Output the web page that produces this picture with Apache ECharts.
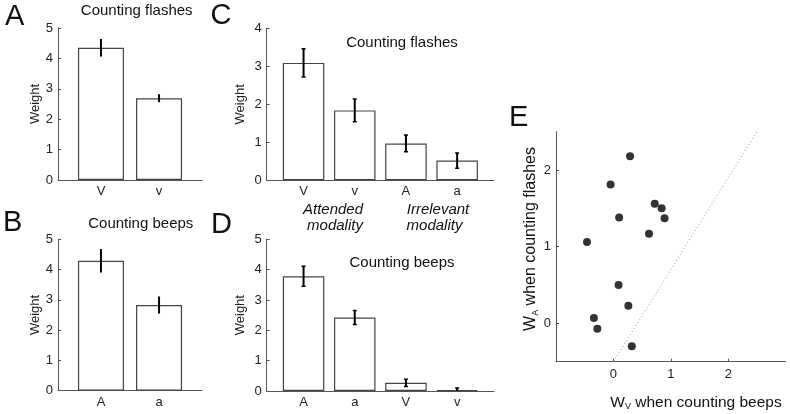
<!DOCTYPE html>
<html><head><meta charset="utf-8">
<script src="https://cdn.jsdelivr.net/npm/echarts@6/dist/echarts.min.js"></script>
<style>html,body{margin:0;padding:0;background:#fff}#c{width:790px;height:414px}</style>
</head><body><div id="c"></div>
<script>
// ---- data ----
const catsA = ['V', 'v'];
const valsA = [4.35, 2.69];
const errA = [0.29, 0.13];

const catsB = ['A', 'a'];
const valsB = [4.29, 2.83];
const errB = [0.39, 0.28];

const catsC = ['V', 'v', 'A', 'a'];
const valsC = [3.09, 1.84, 0.97, 0.52];
const errC = [0.37, 0.30, 0.22, 0.20];

const catsD = ['A', 'a', 'V', 'v'];
const valsD = [3.78, 2.42, 0.27, 0.03];
const errD = [0.33, 0.23, 0.12, 0.07];

const wV = [0.29, -0.05, 0.72, 0.84, 0.89, 0.10, 0.62, -0.46, 0.09, 0.26, -0.34, -0.28, 0.32];
const wA = [2.18, 1.81, 1.56, 1.50, 1.37, 1.38, 1.17, 1.06, 0.50, 0.23, 0.07, -0.07, -0.30];
const diagX = [0, 2.5];
const diagY = [-0.5, 2.5];
const ticksE_X = [0, 1, 2];
const ticksE_Y = [0, 1, 2];

// ---- styling helpers ----
const FONT = 'Liberation Sans, Arial, sans-serif';
const AX = '#555';
const grids = [
  {left: 58, top: 28, width: 144, height: 152},
  {left: 58, top: 239.3, width: 144, height: 151.4},
  {left: 266.7, top: 28.3, width: 227.3, height: 152},
  {left: 266.7, top: 239.3, width: 227.3, height: 151.7},
  {left: 556, top: 131.7, width: 229.7, height: 230}
].map(g => Object.assign({outerBoundsMode: 'none', containLabel: false}, g));

function barX(idx, cats, min, max) {
  const vals = cats.map((c, k) => k + 1);
  return {
    type: 'value', gridIndex: idx, min: min, max: max,
    splitLine: {show: false},
    axisLine: {onZero: false, lineStyle: {color: AX, width: 1}},
    axisTick: {show: false},
    axisLabel: {customValues: vals, formatter: v => cats[Math.round(v) - 1] || '',
      margin: 5, fontSize: 13, color: '#222', fontFamily: FONT}
  };
}
function barY(idx, max, gap) {
  return {
    type: 'value', gridIndex: idx, min: 0, max: max, interval: 1,
    splitLine: {show: false},
    axisLine: {show: true, onZero: false, lineStyle: {color: AX, width: 1}},
    axisTick: {show: true, inside: true, length: 3, lineStyle: {color: AX}},
    axisLabel: {margin: 5, fontSize: 13, color: '#222', fontFamily: FONT},
    name: 'Weight', nameLocation: 'middle', nameRotate: 90, nameGap: gap,
    nameTextStyle: {fontSize: 13, color: '#222', fontFamily: FONT}
  };
}
function barSeries(idx, vals, w) {
  return {
    type: 'bar', xAxisIndex: idx, yAxisIndex: idx, barWidth: w,
    data: vals.map((v, k) => [k + 1, v]),
    itemStyle: {color: '#fff', borderColor: '#444', borderWidth: 1.2},
    silent: true, animation: false
  };
}
function errSeries(idx, vals, errs, cap) {
  return {
    type: 'custom', xAxisIndex: idx, yAxisIndex: idx, clip: true, z: 5,
    data: vals.map((v, k) => [k + 1, v - errs[k], v + errs[k]]),
    encode: {x: 0, y: [1, 2]},
    renderItem: (params, api) => {
      const lo = api.coord([api.value(0), api.value(1)]);
      const hi = api.coord([api.value(0), api.value(2)]);
      const st = {stroke: '#000', lineWidth: 2};
      const ch = [{type: 'line', shape: {x1: lo[0], y1: lo[1], x2: hi[0], y2: hi[1]}, style: st}];
      if (cap > 0) {
        ch.push({type: 'line', shape: {x1: lo[0] - cap / 2, y1: lo[1], x2: lo[0] + cap / 2, y2: lo[1]}, style: {stroke: '#000', lineWidth: 1.5}});
        ch.push({type: 'line', shape: {x1: hi[0] - cap / 2, y1: hi[1], x2: hi[0] + cap / 2, y2: hi[1]}, style: {stroke: '#000', lineWidth: 1.5}});
      }
      return {type: 'group', children: ch};
    },
    silent: true, animation: false
  };
}
function txt(x, y, s, size, opts) {
  return {
    type: 'text', x: x, y: y, silent: true,
    style: Object.assign({text: s, fontSize: size, fontFamily: FONT, fill: '#111',
      textAlign: 'center', textVerticalAlign: 'middle'}, opts || {})
  };
}

const chart = echarts.init(document.getElementById('c'), null, {renderer: 'canvas'});
const option = {
  animation: false,
  backgroundColor: '#fff',
  grid: grids,
  xAxis: [
    barX(0, catsA, 0.26, 2.74),
    barX(1, catsB, 0.26, 2.74),
    barX(2, catsC, 0.28, 4.72),
    barX(3, catsD, 0.28, 4.72),
    {
      type: 'value', gridIndex: 4, min: -1, max: 3, interval: 1,
      splitLine: {show: false},
      axisLine: {onZero: false, lineStyle: {color: AX, width: 1}},
      axisTick: {show: true, inside: true, length: 3, customValues: ticksE_X, lineStyle: {color: AX}},
      axisLabel: {customValues: ticksE_X, margin: 6, fontSize: 13, color: '#222', fontFamily: FONT}
    }
  ],
  yAxis: [
    barY(0, 5, 16.5),
    barY(1, 5, 16.5),
    barY(2, 4, 20),
    barY(3, 5, 20),
    {
      type: 'value', gridIndex: 4, min: -0.5, max: 2.5,
      splitLine: {show: false},
      axisLine: {show: true, onZero: false, lineStyle: {color: AX, width: 1}},
      axisTick: {show: true, inside: true, length: 3, customValues: ticksE_Y, lineStyle: {color: AX}},
      axisLabel: {customValues: ticksE_Y, margin: 5, fontSize: 13, color: '#222', fontFamily: FONT}
    }
  ],
  series: [
    barSeries(0, valsA, 46), errSeries(0, valsA, errA, 0),
    barSeries(1, valsB, 46), errSeries(1, valsB, errB, 0),
    barSeries(2, valsC, 41.5), errSeries(2, valsC, errC, 4),
    barSeries(3, valsD, 41.5), errSeries(3, valsD, errD, 4),
    {
      type: 'line', xAxisIndex: 4, yAxisIndex: 4, symbol: 'none', silent: true,
      data: diagX.map((x, i) => [x, diagY[i]]),
      lineStyle: {color: '#999', width: 1, type: [1, 2.5]}
    },
    {
      type: 'scatter', xAxisIndex: 4, yAxisIndex: 4, symbolSize: 8, silent: true,
      data: wV.map((x, i) => [x, wA[i]]),
      itemStyle: {color: '#000'}
    }
  ],
  graphic: [
    txt(5, 17, 'A', 29, {textAlign: 'left'}),
    txt(3, 223.3, 'B', 29, {textAlign: 'left'}),
    txt(210.5, 15.5, 'C', 29, {textAlign: 'left'}),
    txt(211, 225, 'D', 29, {textAlign: 'left'}),
    txt(509, 118, 'E', 29, {textAlign: 'left'}),
    txt(136.7, 10.8, 'Counting flashes', 15),
    txt(140.8, 224, 'Counting beeps', 15),
    txt(402, 42.5, 'Counting flashes', 15),
    txt(402, 263, 'Counting beeps', 15),
    txt(333, 209.5, 'Attended', 15, {fontStyle: 'italic'}),
    txt(335, 226, 'modality', 15, {fontStyle: 'italic'}),
    txt(438, 209.5, 'Irrelevant', 15, {fontStyle: 'italic'}),
    txt(434.5, 226, 'modality', 15, {fontStyle: 'italic'}),
    {
      type: 'text', x: 696, y: 402.5, silent: true,
      style: {
        text: '{w|W}{s|V}{w| when counting beeps}',
        textAlign: 'center', textVerticalAlign: 'middle',
        rich: {
          w: {fontSize: 15.5, fontFamily: FONT, fill: '#111', color: '#111', lineHeight: 18, verticalAlign: 'middle'},
          s: {fontSize: 9, fontFamily: FONT, fill: '#111', color: '#111', verticalAlign: 'bottom', lineHeight: 18, padding: [6, 0, 0, 0]}
        }
      }
    },
    {
      type: 'text', x: 531, y: 239, rotation: Math.PI / 2, silent: true,
      style: {
        text: '{w|W}{s|A}{w| when counting flashes}',
        textAlign: 'center', textVerticalAlign: 'middle',
        rich: {
          w: {fontSize: 16, fontFamily: FONT, fill: '#111', color: '#111', lineHeight: 18, verticalAlign: 'middle'},
          s: {fontSize: 9, fontFamily: FONT, fill: '#111', color: '#111', verticalAlign: 'bottom', lineHeight: 18, padding: [6, 0, 0, 0]}
        }
      }
    }
  ]
};
chart.setOption(option);
</script>
</body></html>
